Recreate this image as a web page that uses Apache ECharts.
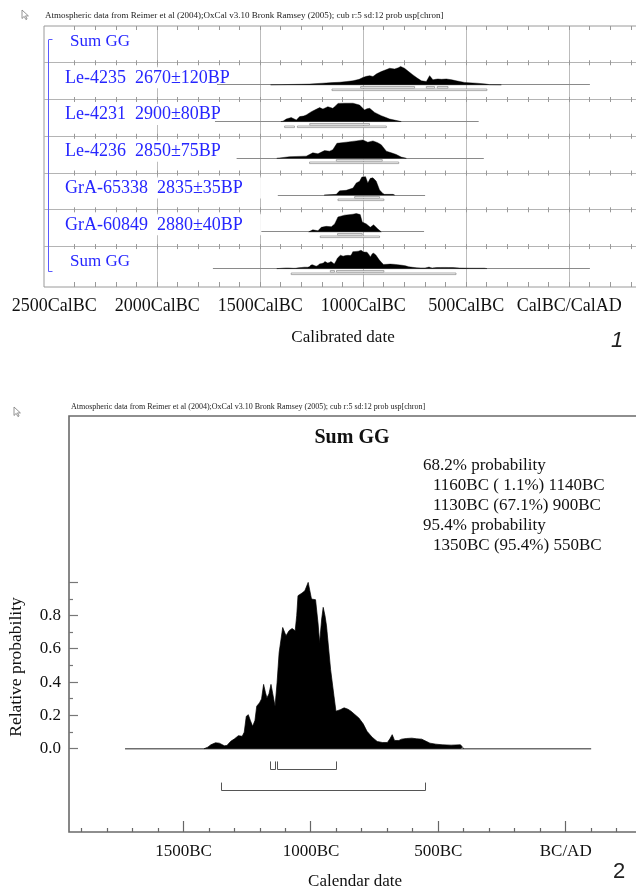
<!DOCTYPE html>
<html><head><meta charset="utf-8">
<script src="https://cdn.jsdelivr.net/npm/echarts@6/dist/echarts.min.js"></script>
<style>html,body{margin:0;padding:0;background:#fff}#c{width:636px;height:889px}</style>
</head><body><div id="c"></div>
<script>
// ================= DATA =================
// Top panel (multi plot): row labels, top to bottom
const rowLabels = ['Sum GG','Le-4235  2670\u00b1120BP','Le-4231  2900\u00b180BP','Le-4236  2850\u00b175BP','GrA-65338  2835\u00b135BP','GrA-60849  2880\u00b140BP','Sum GG'];
// top axis ticks / labels (calendar years, BC negative)
const topTickYears = [-2400,-2300,-2200,-2100,-2000,-1900,-1800,-1700,-1600,-1500,-1400,-1300,-1200,-1100,-1000,-900,-800,-700,-600,-500,-400,-300,-200,-100,0,100,200,300];
const topMajorYears = [-2000,-1500,-1000,-500,0];
const topLabelYears = [-2500,-2000,-1500,-1000,-500,0];
const topLabelTexts = ['2500CalBC','2000CalBC','1500CalBC','1000CalBC','500CalBC','CalBC/CalAD'];
const topSeparatorRows = [1,2,3,4,5,6];

// Summed distribution (relative probability)
const sumYears = [-1420,-1405,-1393,-1375,-1360,-1340,-1330,-1315,-1300,-1285,-1270,-1262,-1254,-1246,-1238,-1229,-1220,-1213,-1202,-1194,-1186,-1179,-1173,-1165,-1157,-1150,-1141,-1133,-1125,-1111,-1098,-1086,-1074,-1062,-1056,-1051,-1035,-1024,-1011,-998,-982,-972,-966,-958,-952,-945,-939,-923,-910,-902,-885,-870,-855,-843,-812,-795,-780,-760,-740,-720,-700,-690,-681,-672,-665,-655,-644,-625,-604,-585,-565,-548,-533,-510,-485,-450,-413,-405,-400];
const sumProb  = [0,0.01,0.024,0.036,0.034,0.018,0.02,0.045,0.06,0.079,0.075,0.1,0.195,0.205,0.17,0.135,0.17,0.256,0.276,0.3,0.387,0.34,0.306,0.33,0.387,0.33,0.256,0.4,0.578,0.729,0.679,0.71,0.723,0.709,0.8,0.92,0.936,0.95,1.0,0.9,0.896,0.75,0.638,0.78,0.85,0.8,0.739,0.477,0.32,0.226,0.235,0.246,0.238,0.226,0.185,0.15,0.105,0.07,0.044,0.038,0.038,0.06,0.085,0.05,0.038,0.05,0.058,0.062,0.064,0.06,0.058,0.045,0.034,0.028,0.024,0.022,0.024,0.01,0];

const le4235Years = [-1450,-1400,-1300,-1261,-1196,-1150,-1115,-1080,-1050,-1020,-1002,-985,-969,-953,-935,-913,-890,-872,-848,-830,-819,-800,-780,-759,-740,-718,-694,-678,-662,-650,-638,-620,-597,-570,-549,-508,-451,-403,-387,-330];
const le4235Prob  = [0,0.01,0.03,0.04,0.09,0.12,0.14,0.18,0.22,0.3,0.4,0.46,0.5,0.45,0.6,0.72,0.82,0.9,0.86,0.93,1.0,0.9,0.72,0.54,0.38,0.22,0.18,0.5,0.27,0.3,0.32,0.3,0.32,0.27,0.22,0.13,0.09,0.04,0.01,0];
const le4231Years = [-1400,-1390,-1374,-1350,-1325,-1309,-1290,-1277,-1252,-1236,-1212,-1196,-1172,-1148,-1135,-1123,-1090,-1050,-1018,-994,-982,-969,-945,-913,-890,-872,-832,-816];
const le4231Prob  = [0,0.02,0.14,0.22,0.09,0.27,0.3,0.36,0.54,0.63,0.76,0.68,0.81,0.72,0.85,0.99,1.0,1.0,0.9,0.63,0.7,0.72,0.5,0.32,0.22,0.14,0.04,0];
const le4236Years = [-1420,-1406,-1358,-1277,-1245,-1220,-1188,-1164,-1148,-1128,-1083,-1034,-1002,-978,-953,-930,-913,-888,-864,-840,-816,-791];
const le4236Prob  = [0,0.02,0.09,0.12,0.3,0.25,0.42,0.39,0.47,0.82,0.88,0.95,1.0,0.88,0.95,0.85,0.74,0.39,0.3,0.21,0.07,0];
const gra65338Years = [-1190,-1131,-1115,-1083,-1050,-1034,-1018,-1007,-989,-978,-966,-953,-937,-921,-905,-897,-856,-848];
const gra65338Prob  = [0,0.04,0.23,0.26,0.38,0.66,0.75,0.98,1.0,0.66,0.91,0.94,0.75,0.28,0.09,0.04,0.04,0];
const gra60849Years = [-1265,-1245,-1220,-1204,-1180,-1155,-1139,-1123,-1091,-1050,-1034,-1015,-1005,-985,-966,-950,-929,-913];
const gra60849Prob  = [0,0.11,0.06,0.25,0.3,0.28,0.43,0.81,0.91,0.96,1.0,0.94,0.53,0.43,0.25,0.38,0.15,0];

// plotted extents of each row's curve (years)
const rowPlotRanges = [null,[-1710,100],[-1720,-440],[-1615,-415],[-1415,-700],[-1495,-705],[-1730,100]];
// 68.2% and 95.4% ranges per row
const rowRanges68 = [null,[[-1013,-751],[-694,-654],[-641,-589]],[[-1260,-970]],[[-1131,-908]],[[-1042,-921]],[[-1125,-1005]],[[-1160,-1140],[-1130,-900]]];
const rowRanges95 = [null,[[-1152,-400]],[[-1382,-1334],[-1320,-888]],[[-1261,-828]],[[-1123,-900]],[[-1209,-921]],[[-1350,-550]]];

// Bottom panel
const sumPlotRange = [-1730,100];
const sumRanges68 = [[-1160,-1140],[-1130,-900]];
const sumRanges95 = [[-1350,-550]];
const bottomTickYears = [-1900,-1800,-1700,-1600,-1500,-1400,-1300,-1200,-1100,-1000,-900,-800,-700,-600,-500,-400,-300,-200,-100,0,100,200];
const bottomMajorYears = [-1500,-1000,-500,0];
const bottomLabelYears = [-1500,-1000,-500,0];
const bottomLabelTexts = ['1500BC','1000BC','500BC','BC/AD'];
const probTickVals = [0,0.1,0.2,0.3,0.4,0.5,0.6,0.7,0.8,0.9,1.0];
const probMajorVals = [0,0.2,0.4,0.6,0.8,1.0];
const probLabelVals = [0,0.2,0.4,0.6,0.8];
const probLabelTexts = ['0.0','0.2','0.4','0.6','0.8'];
const statLines = ['68.2% probability','1160BC ( 1.1%) 1140BC','1130BC (67.1%) 900BC','95.4% probability','1350BC (95.4%) 550BC'];
const statIndent = [0,1,1,0,1];
const headerText = 'Atmospheric data from Reimer et al (2004);OxCal v3.10 Bronk Ramsey (2005); cub r:5 sd:12 prob usp[chron]';

// ================= CHART =================
const SERIF = "'Liberation Serif','Times New Roman',serif";
const SANS = "'Liberation Sans',Arial,sans-serif";
const TOP_X_MIN = -2550, TOP_X_MAX = 400, TOP_Y_MAX = 7.1;
const BOT_X_MIN = -1950, BOT_X_MAX = 300, BOT_Y_MIN = -0.5, BOT_Y_MAX = 2.0;
const TOP_BASE_OFFSET = 0.6, TOP_PEAK = 0.5;

const topDists = [
  {row:1, years:le4235Years, prob:le4235Prob},
  {row:2, years:le4231Years, prob:le4231Prob},
  {row:3, years:le4236Years, prob:le4236Prob},
  {row:4, years:gra65338Years, prob:gra65338Prob},
  {row:5, years:gra60849Years, prob:gra60849Prob},
  {row:6, years:sumYears, prob:sumProb}
];

function crisp(v){ return Math.round(v - 0.5) + 0.5; }
function labelFor(vals, texts, v){
  for (let i=0;i<vals.length;i++){ if (Math.abs(vals[i]-v) < 1e-6) return texts[i]; }
  return '';
}
function txtStyle(o){
  const s = Object.assign({}, o);
  if (s.align){ s.textAlign = s.align; }
  if (s.verticalAlign){ s.textVerticalAlign = s.verticalAlign; }
  return s;
}

const chart = echarts.init(document.getElementById('c'), null, {renderer:'canvas', width:636, height:889});

const option = {
  animation:false,
  backgroundColor:'#fff',
  textStyle:{fontFamily:SERIF},
  grid:[
    {left:44, top:26, right:-15.7, bottom:602, show:true, borderColor:'#9a9a9a', borderWidth:1, backgroundColor:'#fff', containLabel:false, outerBoundsMode:'none'},
    {left:69, top:416, right:-6.1, bottom:57, show:true, borderColor:'#6a6a6a', borderWidth:1.6, backgroundColor:'#fff', containLabel:false, outerBoundsMode:'none'}
  ],
  xAxis:[
    {gridIndex:0, type:'value', min:TOP_X_MIN, max:TOP_X_MAX, interval:50,
     axisLine:{show:false}, axisTick:{show:false}, splitLine:{show:false},
     axisLabel:{formatter:v=>labelFor(topLabelYears, topLabelTexts, v), margin:10, fontFamily:SERIF, fontSize:18, color:'#111'}},
    {gridIndex:1, type:'value', min:BOT_X_MIN, max:BOT_X_MAX, interval:50,
     axisLine:{show:false}, axisTick:{show:false}, splitLine:{show:false},
     axisLabel:{formatter:v=>labelFor(bottomLabelYears, bottomLabelTexts, v), margin:11, fontFamily:SERIF, fontSize:17, color:'#111'}}
  ],
  yAxis:[
    {gridIndex:0, type:'value', min:0, max:TOP_Y_MAX, inverse:true, show:false},
    {gridIndex:1, type:'value', min:BOT_Y_MIN, max:BOT_Y_MAX, interval:0.1,
     axisLine:{show:false}, axisTick:{show:false}, splitLine:{show:false},
     axisLabel:{formatter:v=>labelFor(probLabelVals, probLabelTexts, v), margin:8, fontFamily:SERIF, fontSize:17, color:'#111'}}
  ],
  series:[
    // ---- top panel: major vertical grid lines
    {type:'custom', xAxisIndex:0, yAxisIndex:0, silent:true, z:1,
     data: topMajorYears.map(y=>[y,0]),
     renderItem:(params, api)=>{
       const yr = api.value(0);
       const a = api.coord([yr,0]), b = api.coord([yr,TOP_Y_MAX]);
       const x = crisp(a[0]);
       return {type:'line', shape:{x1:x,y1:a[1],x2:x,y2:b[1]}, style:{stroke:'#bcbcbc', lineWidth:1}};
     }},
    // ---- top panel: row separators
    {type:'custom', xAxisIndex:0, yAxisIndex:0, silent:true, z:1,
     data: topSeparatorRows.map(r=>[TOP_X_MIN,r]),
     renderItem:(params, api)=>{
       const r = api.value(1);
       const a = api.coord([TOP_X_MIN,r]), b = api.coord([TOP_X_MAX,r]);
       const y = crisp(a[1]);
       return {type:'line', shape:{x1:a[0],y1:y,x2:b[0],y2:y}, style:{stroke:'#b4b4b4', lineWidth:1}};
     }},
    // ---- top panel: minor ticks
    {type:'custom', xAxisIndex:0, yAxisIndex:0, silent:true, z:1,
     data: topTickYears.map(y=>[y,0]),
     renderItem:(params, api)=>{
       const yr = api.value(0);
       const t = api.coord([yr,0]), b = api.coord([yr,TOP_Y_MAX]);
       const x = crisp(t[0]);
       const st = {stroke:'#999', lineWidth:1};
       const ch = [{type:'line', shape:{x1:x,y1:t[1],x2:x,y2:t[1]+4}, style:st}];
       topSeparatorRows.forEach(r=>{
         const p = api.coord([yr,r]);
         ch.push({type:'line', shape:{x1:x,y1:p[1]-2.5,x2:x,y2:p[1]+2.5}, style:st});
       });
       ch.push({type:'line', shape:{x1:x,y1:b[1]-5,x2:x,y2:b[1]}, style:st});
       return {type:'group', children:ch};
     }},
    // ---- top panel: row labels
    {type:'custom', xAxisIndex:0, yAxisIndex:0, silent:true, z:2,
     data: rowLabels.map((t,i)=>[TOP_X_MIN,i]),
     renderItem:(params, api)=>{
       const i = params.dataIndex;
       const p = api.coord([TOP_X_MIN, i + 0.41]);
       const isSum = rowLabels[i].indexOf('Sum') === 0;
       return {type:'text', x:p[0] + (isSum ? 24 : 19), y:p[1],
         style:txtStyle({text:rowLabels[i], fill:'#2626ff', fontFamily:SERIF, fontSize:isSum?17:18,
           align:'left', verticalAlign:'middle', backgroundColor:'#fff', padding:[1,18,2,2]})};
     }},
    // ---- top panel: blue grouping bracket
    {type:'custom', xAxisIndex:0, yAxisIndex:0, silent:true, z:3,
     data: [[TOP_X_MIN, 0]],
     renderItem:(params, api)=>{
       const a = api.coord([TOP_X_MIN, 0.38]), b = api.coord([TOP_X_MIN, rowLabels.length - 1 + 0.68]);
       const x = crisp(a[0] + 4);
       const st = {stroke:'#5a5aff', lineWidth:1};
       return {type:'group', children:[
         {type:'line', shape:{x1:x,y1:a[1],x2:x,y2:b[1]}, style:st},
         {type:'line', shape:{x1:x,y1:crisp(a[1]),x2:x+4,y2:crisp(a[1])}, style:st},
         {type:'line', shape:{x1:x,y1:crisp(b[1]),x2:x+4,y2:crisp(b[1])}, style:st}
       ]};
     }},
    // ---- top panel: curve baselines
    {type:'custom', xAxisIndex:0, yAxisIndex:0, silent:true, z:3,
     data: topDists.map(d=>[rowPlotRanges[d.row][0], d.row]),
     renderItem:(params, api)=>{
       const d = topDists[params.dataIndex];
       const rg = rowPlotRanges[d.row];
       const a = api.coord([rg[0], d.row + TOP_BASE_OFFSET]), b = api.coord([rg[1], d.row + TOP_BASE_OFFSET]);
       const y = crisp(a[1]);
       return {type:'line', shape:{x1:a[0],y1:y,x2:b[0],y2:y}, style:{stroke:'#8a8a8a', lineWidth:1}};
     }},
    // ---- top panel: distributions
    {type:'custom', xAxisIndex:0, yAxisIndex:0, silent:true, z:4,
     data: topDists.map(d=>[d.years[0], d.row]),
     renderItem:(params, api)=>{
       const d = topDists[params.dataIndex];
       const base = d.row + TOP_BASE_OFFSET;
       const pts = [api.coord([d.years[0], base])];
       d.years.forEach((y,j)=>pts.push(api.coord([y, base - d.prob[j]*TOP_PEAK])));
       pts.push(api.coord([d.years[d.years.length-1], base]));
       return {type:'polygon', shape:{points:pts}, style:{fill:'#000', stroke:'#000', lineWidth:0.4}};
     }},
    // ---- top panel: range bars
    {type:'custom', xAxisIndex:0, yAxisIndex:0, silent:true, z:4,
     data: topDists.map(d=>[d.years[0], d.row]),
     renderItem:(params, api)=>{
       const d = topDists[params.dataIndex];
       const base = api.coord([0, d.row + TOP_BASE_OFFSET])[1];
       const ch = [];
       const add = (ranges, dy)=>{
         ranges.forEach(r=>{
           const x1 = api.coord([r[0],0])[0], x2 = api.coord([r[1],0])[0];
           ch.push({type:'rect', shape:{x:x1, y:Math.round(base)+dy, width:x2-x1, height:1.6}, style:{fill:'#fff', stroke:'#8a8a8a', lineWidth:0.7}});
         });
       };
       add(rowRanges68[d.row], 1.5);
       add(rowRanges95[d.row], 4);
       return {type:'group', children:ch};
     }},

    // ---- bottom panel: curve baseline
    {type:'line', xAxisIndex:1, yAxisIndex:1, silent:true, z:2, symbol:'none',
     data: sumPlotRange.map(y=>[y,0]),
     lineStyle:{color:'#6e6e6e', width:1.5}},
    // ---- bottom panel: summed probability
    {type:'line', name:'Sum GG', xAxisIndex:1, yAxisIndex:1, silent:true, z:3, symbol:'none', showSymbol:false,
     data: sumYears.map((y,i)=>[y, sumProb[i]]),
     lineStyle:{color:'#000', width:0.7}, areaStyle:{color:'#000', opacity:1}},
    // ---- bottom panel: range brackets
    {type:'custom', xAxisIndex:1, yAxisIndex:1, silent:true, z:3,
     data: [[0,0]],
     renderItem:(params, api)=>{
       const ch = [];
       const add = (ranges, top, bot)=>{
         ranges.forEach(r=>{
           const a = api.coord([r[0], top]), b = api.coord([r[1], bot]);
           const x1 = crisp(a[0]), x2 = crisp(b[0]), y1 = a[1], y2 = crisp(b[1]);
           ch.push({type:'polyline', shape:{points:[[x1,y1],[x1,y2],[x2,y2],[x2,y1]]}, style:{stroke:'#555', lineWidth:1, fill:null}});
         });
       };
       add(sumRanges68, -0.076, -0.127);
       add(sumRanges95, -0.203, -0.25);
       return {type:'group', children:ch};
     }},
    // ---- bottom panel: x ticks
    {type:'custom', xAxisIndex:1, yAxisIndex:1, silent:true, z:3,
     data: bottomTickYears.map(y=>[y,BOT_Y_MIN]),
     renderItem:(params, api)=>{
       const yr = api.value(0);
       const p = api.coord([yr, BOT_Y_MIN]);
       const len = bottomMajorYears.indexOf(yr) >= 0 ? 11 : 4;
       const x = crisp(p[0]);
       return {type:'line', shape:{x1:x,y1:p[1],x2:x,y2:p[1]-len}, style:{stroke:'#666', lineWidth:1.2}};
     }},
    // ---- bottom panel: y ticks
    {type:'custom', xAxisIndex:1, yAxisIndex:1, silent:true, z:3,
     data: probTickVals.map(v=>[BOT_X_MIN,v]),
     renderItem:(params, api)=>{
       const v = api.value(1);
       const p = api.coord([BOT_X_MIN, v]);
       const major = probMajorVals.some(m=>Math.abs(m-v)<1e-6);
       const y = crisp(p[1]);
       return {type:'line', shape:{x1:p[0],y1:y,x2:p[0]+(major?9:4),y2:y}, style:{stroke:'#777', lineWidth:1.2}};
     }}
  ],
  graphic:[
    // header lines
    {type:'text', x:45, y:16, silent:true, style:txtStyle({text:headerText, fill:'#222', fontFamily:SERIF, fontSize:9, align:'left', verticalAlign:'middle'})},
    {type:'text', x:71, y:407, silent:true, style:txtStyle({text:headerText, fill:'#222', fontFamily:SERIF, fontSize:8, align:'left', verticalAlign:'middle'})},
    // cursor icons
    {type:'polygon', x:22, y:10, silent:true, shape:{points:[[0,0],[0,8.5],[2.2,6.4],[3.9,9.6],[5.1,9],[3.5,5.9],[6.4,5.9]]}, style:{fill:'#fff', stroke:'#7a7a7a', lineWidth:0.8}},
    {type:'polygon', x:14, y:407, silent:true, shape:{points:[[0,0],[0,8.5],[2.2,6.4],[3.9,9.6],[5.1,9],[3.5,5.9],[6.4,5.9]]}, style:{fill:'#fff', stroke:'#7a7a7a', lineWidth:0.8}},
    // top axis title and panel number
    {type:'text', x:343, y:338, silent:true, style:txtStyle({text:'Calibrated date', fill:'#111', fontFamily:SERIF, fontSize:17, align:'center', verticalAlign:'middle'})},
    {type:'text', x:617, y:341, silent:true, style:txtStyle({text:'1', fill:'#222', fontFamily:SANS, fontSize:22, fontStyle:'italic', align:'center', verticalAlign:'middle'})},
    // bottom panel title
    {type:'text', x:352, y:438, silent:true, style:txtStyle({text:'Sum GG', fill:'#111', fontFamily:SERIF, fontSize:20, fontWeight:'bold', align:'center', verticalAlign:'middle'})}
  ].concat(statLines.map((t,i)=>({type:'text', x:423 + statIndent[i]*10, y:466 + i*20, silent:true,
      style:txtStyle({text:t, fill:'#111', fontFamily:SERIF, fontSize:17, align:'left', verticalAlign:'middle'})})))
   .concat([
    {type:'text', x:16, y:667, rotation:Math.PI/2, silent:true, style:txtStyle({text:'Relative probability', fill:'#111', fontFamily:SERIF, fontSize:17.5, align:'center', verticalAlign:'middle'})},
    {type:'text', x:355, y:882, silent:true, style:txtStyle({text:'Calendar date', fill:'#111', fontFamily:SERIF, fontSize:17, align:'center', verticalAlign:'middle'})},
    {type:'text', x:619, y:872, silent:true, style:txtStyle({text:'2', fill:'#222', fontFamily:SANS, fontSize:22, align:'center', verticalAlign:'middle'})}
   ])
};
chart.setOption(option);
</script>
</body></html>
